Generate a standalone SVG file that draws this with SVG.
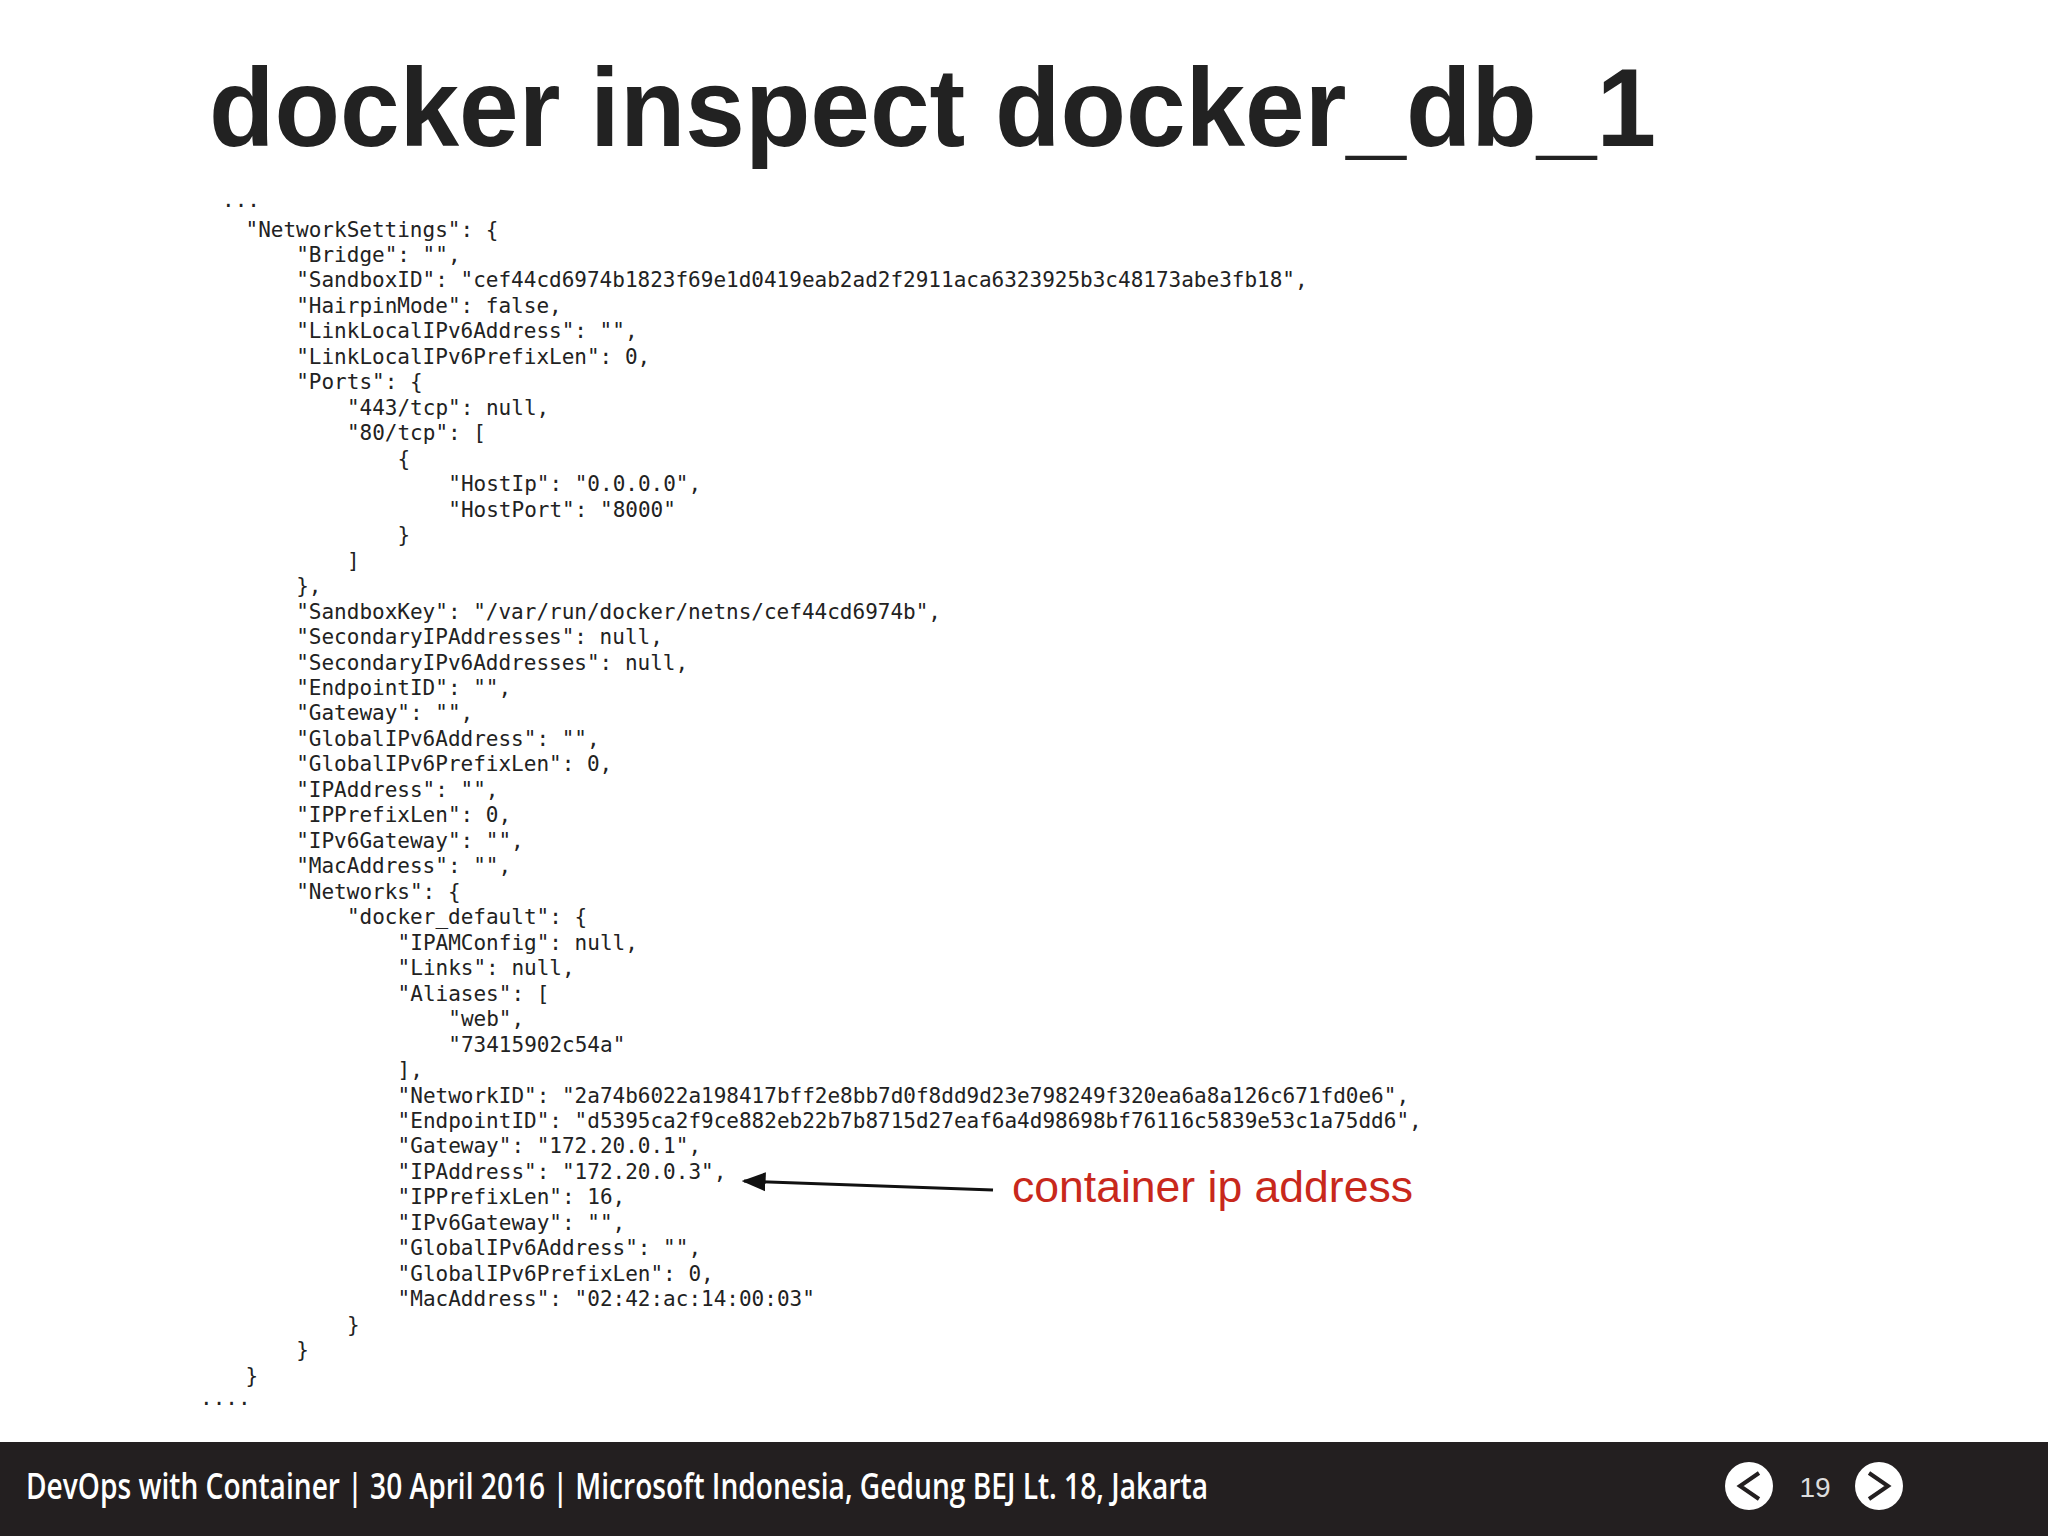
<svg xmlns="http://www.w3.org/2000/svg" width="2048" height="1536" viewBox="0 0 2048 1536">
<defs>
<style>
.c{font-family:"DejaVu Sans Mono","Liberation Mono",monospace;font-size:21px;fill:#222}
</style>
<marker id="ah" viewBox="0 0 10 10" refX="9" refY="5" markerWidth="8" markerHeight="8" orient="auto-start-reverse"><path d="M0,1 L10,5 L0,9 Z" fill="#111"/></marker>
</defs>
<rect width="2048" height="1536" fill="#fff"/>
<g id="title"><text x="209" y="146" font-family="Liberation Sans, Arial, sans-serif" font-weight="bold" font-size="112" fill="#222" textLength="1447" lengthAdjust="spacingAndGlyphs">docker inspect docker_db_1</text></g>
<g id="code">
<text class="c" x="222" y="207">...</text>
<text class="c" x="245.5" y="236.5">"NetworkSettings": {</text>
<text class="c" x="296.2" y="262">"Bridge": "",</text>
<text class="c" x="296.2" y="287.4">"SandboxID": "cef44cd6974b1823f69e1d0419eab2ad2f2911aca6323925b3c48173abe3fb18",</text>
<text class="c" x="296.2" y="312.9">"HairpinMode": false,</text>
<text class="c" x="296.2" y="338.4">"LinkLocalIPv6Address": "",</text>
<text class="c" x="296.2" y="363.9">"LinkLocalIPv6PrefixLen": 0,</text>
<text class="c" x="296.2" y="389.3">"Ports": {</text>
<text class="c" x="346.9" y="414.8">"443/tcp": null,</text>
<text class="c" x="346.9" y="440.3">"80/tcp": [</text>
<text class="c" x="397.6" y="465.7">{</text>
<text class="c" x="448.3" y="491.2">"HostIp": "0.0.0.0",</text>
<text class="c" x="448.3" y="516.7">"HostPort": "8000"</text>
<text class="c" x="397.6" y="542.1">}</text>
<text class="c" x="346.9" y="567.6">]</text>
<text class="c" x="296.2" y="593.1">},</text>
<text class="c" x="296.2" y="618.6">"SandboxKey": "/var/run/docker/netns/cef44cd6974b",</text>
<text class="c" x="296.2" y="644">"SecondaryIPAddresses": null,</text>
<text class="c" x="296.2" y="669.5">"SecondaryIPv6Addresses": null,</text>
<text class="c" x="296.2" y="695">"EndpointID": "",</text>
<text class="c" x="296.2" y="720.4">"Gateway": "",</text>
<text class="c" x="296.2" y="745.9">"GlobalIPv6Address": "",</text>
<text class="c" x="296.2" y="771.4">"GlobalIPv6PrefixLen": 0,</text>
<text class="c" x="296.2" y="796.8">"IPAddress": "",</text>
<text class="c" x="296.2" y="822.3">"IPPrefixLen": 0,</text>
<text class="c" x="296.2" y="847.8">"IPv6Gateway": "",</text>
<text class="c" x="296.2" y="873.3">"MacAddress": "",</text>
<text class="c" x="296.2" y="898.7">"Networks": {</text>
<text class="c" x="346.9" y="924.2">"docker_default": {</text>
<text class="c" x="397.6" y="949.7">"IPAMConfig": null,</text>
<text class="c" x="397.6" y="975.1">"Links": null,</text>
<text class="c" x="397.6" y="1000.6">"Aliases": [</text>
<text class="c" x="448.3" y="1026.1">"web",</text>
<text class="c" x="448.3" y="1051.5">"73415902c54a"</text>
<text class="c" x="397.6" y="1077">],</text>
<text class="c" x="397.6" y="1102.5">"NetworkID": "2a74b6022a198417bff2e8bb7d0f8dd9d23e798249f320ea6a8a126c671fd0e6",</text>
<text class="c" x="397.6" y="1128">"EndpointID": "d5395ca2f9ce882eb22b7b8715d27eaf6a4d98698bf76116c5839e53c1a75dd6",</text>
<text class="c" x="397.6" y="1153.4">"Gateway": "172.20.0.1",</text>
<text class="c" x="397.6" y="1178.9">"IPAddress": "172.20.0.3",</text>
<text class="c" x="397.6" y="1204.4">"IPPrefixLen": 16,</text>
<text class="c" x="397.6" y="1229.8">"IPv6Gateway": "",</text>
<text class="c" x="397.6" y="1255.3">"GlobalIPv6Address": "",</text>
<text class="c" x="397.6" y="1280.8">"GlobalIPv6PrefixLen": 0,</text>
<text class="c" x="397.6" y="1306.2">"MacAddress": "02:42:ac:14:00:03"</text>
<text class="c" x="346.9" y="1331.7">}</text>
<text class="c" x="296.2" y="1357.2">}</text>
<text class="c" x="245.5" y="1382.7">}</text>
<text class="c" x="200" y="1405">....</text>
</g>
<g id="connectors"><line x1="993" y1="1190" x2="744" y2="1181" stroke="#111" stroke-width="3" marker-end="url(#ah)"/></g>
<g id="label"><text x="1012" y="1202" font-family="Liberation Sans, Arial, sans-serif" font-size="44" fill="#c8281c" textLength="401" lengthAdjust="spacingAndGlyphs">container ip address</text></g>
<g id="footer">
<rect x="0" y="1442" width="2048" height="94" fill="#231f20"/>
<text x="26" y="1499" font-family="Open Sans, Liberation Sans, sans-serif" font-weight="600" font-size="36" fill="#fff" textLength="1182" lengthAdjust="spacingAndGlyphs">DevOps with Container | 30 April 2016 | Microsoft Indonesia, Gedung BEJ Lt. 18, Jakarta</text>
<circle cx="1749" cy="1486" r="24" fill="#fff"/>
<path d="M1759,1473 L1740,1486 L1759,1499" fill="none" stroke="#231f20" stroke-width="4"/>
<text x="1815" y="1497" font-family="Liberation Sans, Arial, sans-serif" font-size="28" fill="#ddd" text-anchor="middle">19</text>
<circle cx="1879" cy="1486" r="24" fill="#fff"/>
<path d="M1869,1473 L1888,1486 L1869,1499" fill="none" stroke="#231f20" stroke-width="4"/>
</g>
</svg>
